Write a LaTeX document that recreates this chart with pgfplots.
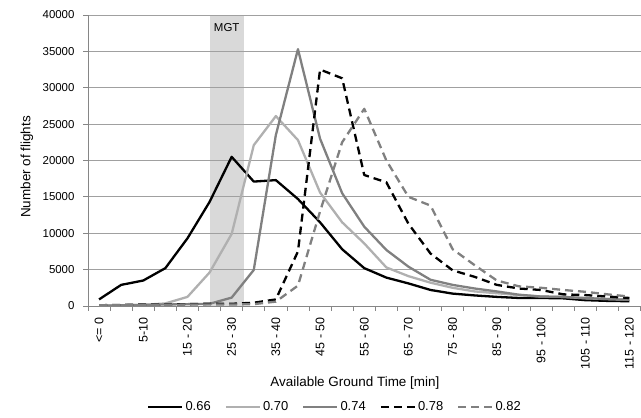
\documentclass[border=0pt]{standalone}
\usepackage{fontspec}
\setmainfont{Liberation Sans}
\usepackage{pgfplots}
\usepackage{pgfplotstable}
\pgfplotsset{compat=1.18}

\definecolor{gridc}{RGB}{160,160,160}
\definecolor{axc}{RGB}{134,134,134}
\definecolor{lg}{RGB}{176,176,176}
\definecolor{mg}{RGB}{128,128,128}
\definecolor{bandc}{RGB}{217,217,217}

\pgfplotstableread{
x a b c d e
0 900 50 50 100 100
1 2900 100 100 150 100
2 3500 150 150 200 150
3 5200 350 200 200 150
4 9300 1250 250 250 200
5 14300 4600 300 300 200
6 20500 9900 1150 300 200
7 17100 22100 4950 450 250
8 17300 26100 23500 900 600
9 14700 22800 35300 7500 2800
10 11500 15600 23000 32500 13000
11 7800 11500 15500 31300 22500
12 5200 8600 10900 18000 27100
13 3900 5300 7700 17000 20000
14 3100 4100 5400 11300 15000
15 2200 3200 3600 7200 13800
16 1700 2500 2900 4900 7800
17 1450 2000 2400 4000 5600
18 1250 1750 2000 2900 3500
19 1100 1500 1550 2400 2700
20 1100 1300 1300 2200 2500
21 1050 1250 1250 1600 2200
22 800 1050 1100 1500 1950
23 700 950 950 1300 1600
24 650 850 850 1100 1300
}\data

\begin{document}
\begin{tikzpicture}
\begin{axis}[
  set layers,
  scale only axis, width=552.5bp, height=291bp,
  xmin=-0.5, xmax=24.5, ymin=0, ymax=40000,
  axis lines*=left,
  axis line style={draw=axc, line width=0.8bp},
  xtick={0,2,...,24},
  xticklabels={{<= 0},{5-10},{15 - 20},{25 - 30},{35 - 40},{45 - 50},{55 - 60},{65 - 70},{75 - 80},{85 - 90},{95 - 100},{105 - 110},{115 - 120}},
  ytick={0,5000,...,40000},
  minor xtick={-0.5,0.5,...,24.5},
  minor ytick={0,5000,...,40000},
  major tick length=0pt, minor tick length=5bp,
  tick align=outside,
  tick style={draw=axc, line width=0.8bp},
  ymajorgrids, grid style={draw=gridc, line width=0.8bp},
  scaled y ticks=false,
  /pgf/number format/assume math mode=true,
  yticklabel style={/pgf/number format/1000 sep={}, font=\fontsize{11.5}{13}\selectfont, xshift=-10bp},
  xticklabel style={rotate=90, anchor=east, font=\fontsize{12.5}{14}\selectfont, yshift=0bp, xshift=-8bp},
  xlabel={Available Ground Time [min]},
  ylabel={Number of flights},
  xlabel style={at={(axis description cs:0.483,-0.2646)}, anchor=center, font=\fontsize{13.5}{15}\selectfont},
  ylabel style={at={(axis description cs:-0.1104,0.478)}, anchor=center, font=\fontsize{13.5}{15}\selectfont},
  legend columns=5,
  legend style={draw=none, fill=none, at={(0.447,-0.347)}, anchor=center,
    font=\fontsize{13}{15}\selectfont,
    /tikz/every even column/.append style={column sep=12bp}},
  legend image code/.code={\draw[#1] (0bp,0bp) -- (34bp,0bp);},
  every axis plot/.append style={line join=round},
]
\addplot[fill=bandc, draw=none, on layer=axis background, forget plot] coordinates {(5,40000) (6.55,40000)} \closedcycle;
\node[font=\fontsize{11.5}{13}\selectfont] at (axis cs:5.775,38300) {MGT};
\addplot[black, line width=2.3bp] table[x=x,y=a]{\data};
\addlegendentry{0.66}
\addplot[lg, line width=2.3bp] table[x=x,y=b]{\data};
\addlegendentry{0.70}
\addplot[mg, line width=2.3bp] table[x=x,y=c]{\data};
\addlegendentry{0.74}
\addplot[black, line width=2.3bp, dash pattern=on 8bp off 5bp] table[x=x,y=d]{\data};
\addlegendentry{0.78}
\addplot[mg, line width=2.3bp, dash pattern=on 8bp off 5bp] table[x=x,y=e]{\data};
\addlegendentry{0.82}
\coordinate (bbsw) at (rel axis cs:-0.1593,-0.3849);
\coordinate (bbne) at (rel axis cs:1.0009,1.0515);
\end{axis}
\pgfresetboundingbox
\path[use as bounding box] (bbsw) rectangle (bbne);
\end{tikzpicture}
\end{document}
